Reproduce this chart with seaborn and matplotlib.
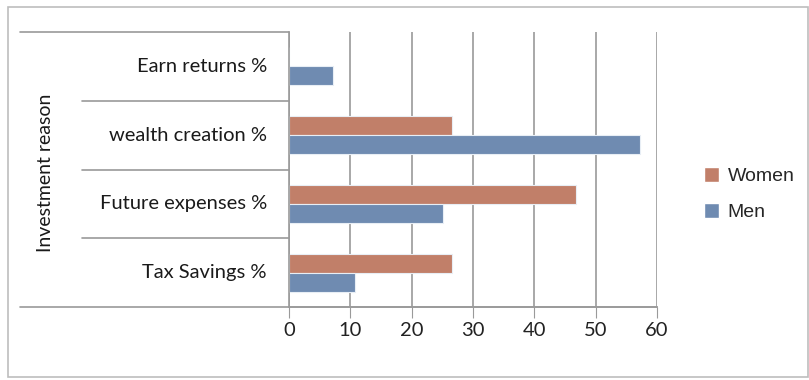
import pandas as pd
import seaborn as sns
import matplotlib.pyplot as plt
from matplotlib.patches import Rectangle

reasons = ["Earn returns %", "wealth creation %", "Future expenses %", "Tax Savings %"]
women = [0, 26.6, 46.8, 26.6]
men = [7.1, 57.3, 25.1, 10.7]
groups = ["Women", "Men"]
x_ticks = [0, 10, 20, 30, 40, 50, 60]

sns.set_style("white")
plt.rcParams["font.family"] = ["Lato", "DejaVu Sans"]

df = pd.DataFrame({
    "reason": reasons * 2,
    "value": women + men,
    "group": ["Women"] * len(reasons) + ["Men"] * len(reasons),
})

W, H = 809, 380
fig = plt.figure(figsize=(W / 100, H / 100), dpi=100)

# outer chart border
fig.patches.append(Rectangle((8 / W, 3 / H), 800 / W, 370 / H, transform=fig.transFigure,
                             fill=False, edgecolor="#bdbdbd", linewidth=1.2))

x0, x1, y0, y1 = 289, 657, 32, 307
ax = fig.add_axes([x0 / W, 1 - y1 / H, (x1 - x0) / W, (y1 - y0) / H])

colors = {"Women": "#c17f69", "Men": "#6f8bb1"}
sns.barplot(data=df, y="reason", x="value", hue="group", hue_order=groups, order=reasons,
            orient="h", palette=colors, saturation=1, width=0.55, edgecolor="#e8eef5",
            linewidth=0.8, ax=ax, legend=False)

ax.set_xlim(0, 60)
ax.set_ylim(len(reasons) - 0.5, -0.5)
ax.set_xticks(x_ticks)
ax.set_xticklabels([str(t) for t in x_ticks], fontsize=14.5, color="#222222")
ax.tick_params(axis="x", length=8, color="#9a9a9a", pad=3, direction="out", bottom=True)
ax.set_yticks([])
ax.set_xlabel("")
ax.set_ylabel("")
ax.grid(axis="x", color="#a8a8a8", linewidth=1.4)
ax.set_axisbelow(True)
for side in ["top", "right"]:
    ax.spines[side].set_visible(False)
ax.spines["left"].set_color("#9a9a9a")
ax.spines["bottom"].set_color("#9a9a9a")
ax.spines["left"].set_linewidth(1.2)
ax.spines["bottom"].set_linewidth(1.2)

# category labels and separators in the label area
line_kw = dict(color="#9a9a9a", linewidth=1.2, clip_on=False, transform=ax.get_yaxis_transform())
left_full = (20 - x0) / (x1 - x0)
left_sep = (82 - x0) / (x1 - x0)
ax.plot([left_full, 0], [-0.5, -0.5], **line_kw)
ax.plot([left_full, 1], [len(reasons) - 0.5] * 2, **line_kw)
for i in range(1, len(reasons)):
    ax.plot([left_sep, 0], [i - 0.5, i - 0.5], **line_kw)
for i, r in enumerate(reasons):
    ax.text((267 - x0) / (x1 - x0), i, r, transform=ax.get_yaxis_transform(),
            ha="right", va="center", fontsize=14.5, color="#1a1a1a")

fig.text(46 / W, 1 - 173 / H, "Investment reason", rotation=90, ha="center", va="center",
         fontsize=14, color="#1a1a1a")

handles = [Rectangle((0, 0), 1, 1, facecolor=colors[g]) for g in groups]
fig.legend(handles, groups, loc="center left", bbox_to_anchor=(686 / W, 1 - 194 / H),
           frameon=False, handlelength=0.8, handleheight=0.8, handletextpad=0.45,
           labelspacing=0.9, prop={"family": "Liberation Sans", "size": 14})

fig.savefig("out.png", dpi=100)
